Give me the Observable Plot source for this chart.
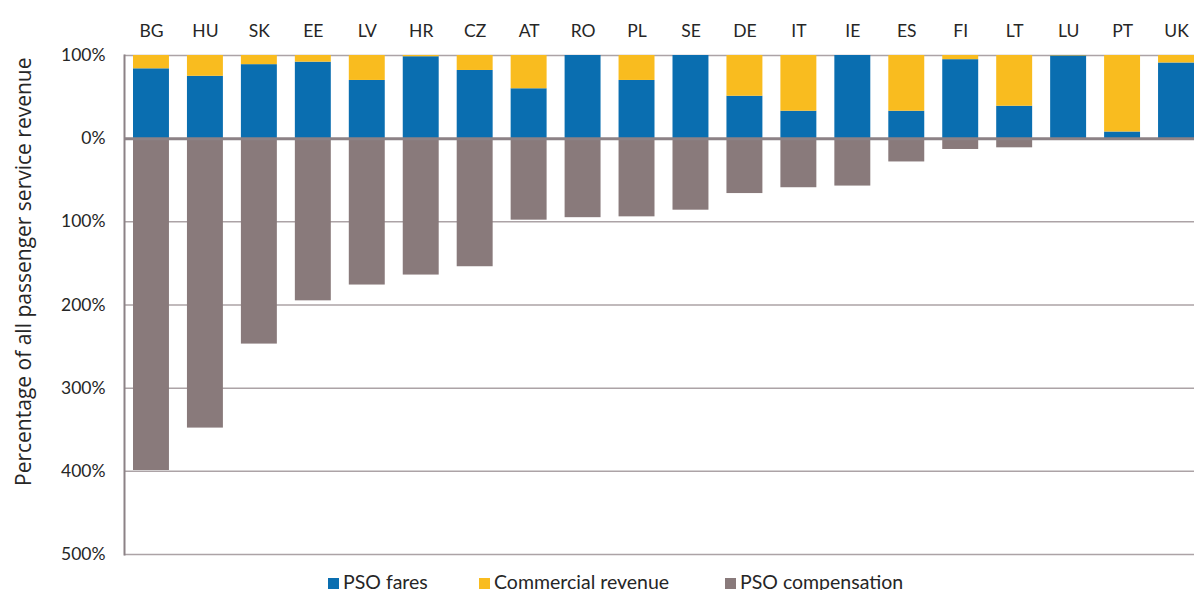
<!DOCTYPE html>
<html>
<head>
<meta charset="utf-8">
<script src="https://cdn.jsdelivr.net/npm/d3@7"></script>
<script src="https://cdn.jsdelivr.net/npm/@observablehq/plot@0.6"></script>
<style>
  html, body { margin: 0; padding: 0; background: #fff; overflow: hidden; }
  body { font-family: Lato, "Open Sans", sans-serif; color: #262626; position: relative; width: 1194px; height: 590px; }
  #legend { position: absolute; top: 571px; left: 0; width: 1194px; height: 24px; font-size: 19.5px; line-height: 22px; }
  .item { position: absolute; top: 0; white-space: nowrap; }
  .sw { display: inline-block; width: 11px; height: 11px; margin-right: 4px; vertical-align: 0px; }
  #chart svg { max-width: none !important; }
</style>
</head>
<body>
<div id="chart"></div>
<div id="legend"></div>
<script>
const countries = ["BG","HU","SK","EE","LV","HR","CZ","AT","RO","PL","SE","DE","IT","IE","ES","FI","LT","LU","PT","UK"];
const psoFares      = [84, 75, 89, 92, 70, 98.5, 82, 60, 100, 70, 100, 51, 33, 100, 33, 95, 39, 99.5, 8, 91];
const commercialRev = [16, 25, 11, 8, 30, 1.5, 18, 40, 0, 30, 0, 49, 67, 0, 67, 5, 61, 0.5, 92, 9];
const psoCompensation = [399, 348, 247, 195, 176, 164, 154, 98, 95, 94, 86, 66, 59, 57, 28, 13, 11, 0, 0, 0];
const yTicks = [100, 0, -100, -200, -300, -400, -500];
const seriesNames = ["PSO fares", "Commercial revenue", "PSO compensation"];
const seriesColors = ["#0a6eb0", "#f9bc1f", "#897a7b"];

const rows = [];
countries.forEach((c, i) => {
  rows.push({country: c, series: seriesNames[0], y1: 0, y2: psoFares[i]});
  rows.push({country: c, series: seriesNames[1], y1: psoFares[i], y2: psoFares[i] + commercialRev[i]});
  rows.push({country: c, series: seriesNames[2], y1: 0, y2: -psoCompensation[i]});
});

const chart = Plot.plot({
  width: 1203,
  height: 566,
  marginLeft: 124,
  marginRight: 0,
  marginTop: 55,
  marginBottom: 12,
  style: {fontFamily: "Lato, 'Open Sans', sans-serif", fontSize: "17px", color: "#262626", background: "#fff"},
  x: {domain: countries, padding: 0, round: false, label: null},
  y: {domain: [-500, 100], label: null},
  color: {domain: seriesNames, range: seriesColors},
  marks: [
    Plot.ruleY(yTicks.filter(d => d !== 0), {stroke: "#aca3a6", strokeWidth: 1.5}),
    Plot.rectY(rows, {x: "country", y1: "y1", y2: "y2", fill: "series", insetLeft: 9, insetRight: 9}),
    Plot.ruleY([0], {stroke: "#8c8286", strokeWidth: 3}),
    Plot.frame({anchor: "left", stroke: "#8c8286", strokeWidth: 2}),
    Plot.axisX({anchor: "top", tickSize: 0, tickPadding: 19, fontSize: 17.5, label: null}),
    Plot.axisY({ticks: yTicks, tickSize: 0, tickPadding: 19, fontSize: 17.5, label: null,
      tickFormat: d => Math.abs(d) + "%"}),
    Plot.text(["Percentage of all passenger service revenue"], {
      frameAnchor: "left", textAnchor: "middle", dx: -100, rotate: -90, fontSize: 21,
      fontFamily: "'Open Sans', sans-serif", fill: "#262626",
      y: () => -160
    })
  ]
});
document.getElementById("chart").appendChild(chart);

const legend = document.getElementById("legend");
const lx = [328, 479, 725];
seriesNames.forEach((n, i) => {
  const it = document.createElement("div");
  it.className = "item";
  it.style.left = lx[i] + "px";
  it.innerHTML = `<span class="sw" style="background:${seriesColors[i]}"></span>${n}`;
  legend.appendChild(it);
});
</script>
</body>
</html>
